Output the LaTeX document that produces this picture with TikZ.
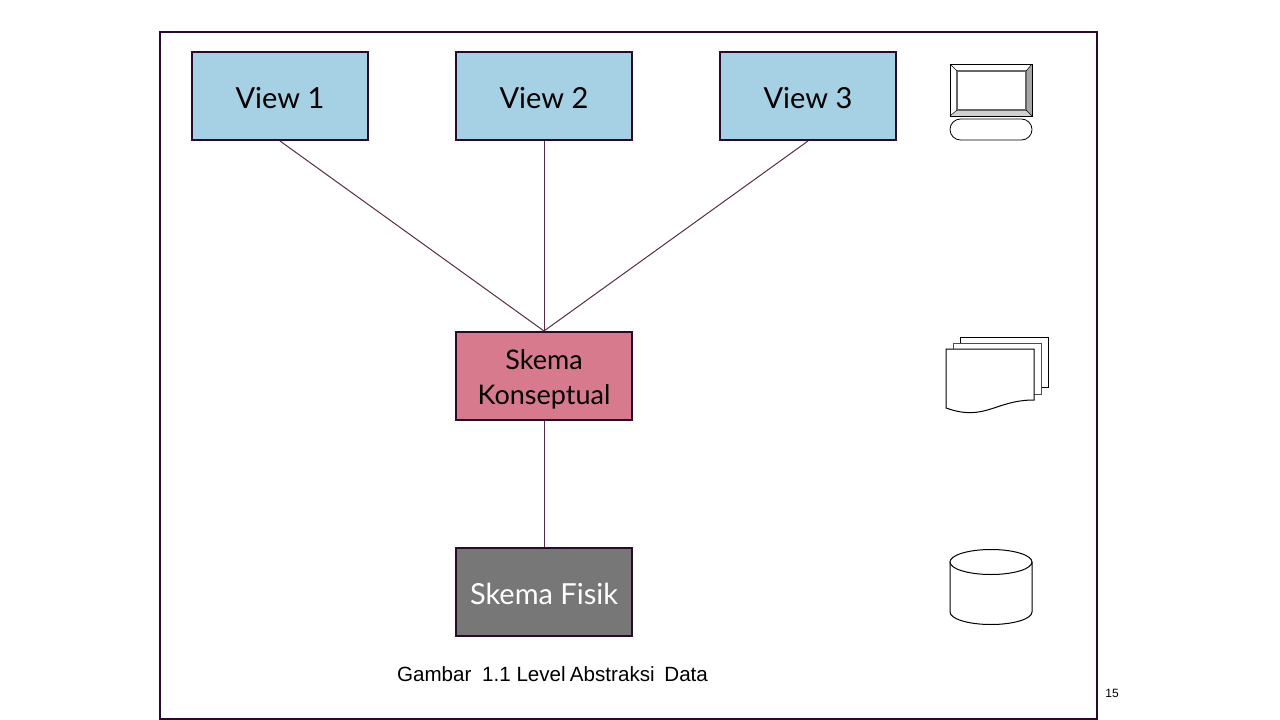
\documentclass[tikz,border=0pt]{standalone}
\usepackage{fontspec}
\setmainfont{Lato}
\newfontfamily\capfont{Liberation Sans}
\definecolor{framec}{HTML}{2A0A2A}
\definecolor{linkc}{HTML}{5A2A48}
\definecolor{viewc}{HTML}{A6D0E4}
\definecolor{konsepc}{HTML}{D87A8E}
\definecolor{fisikc}{HTML}{777777}
\begin{document}
\begin{tikzpicture}[x=1pt, y=-1pt, line join=miter,
  levelbox/.style={draw=framec, line width=2pt, minimum width=176pt, minimum height=88pt, inner sep=0pt, align=center, text height=24pt, text depth=0pt, font=\fontsize{29}{35}\selectfont},
  link/.style={draw=linkc, line width=1pt},
  icon/.style={draw=black, line width=1pt, fill=white}]
\useasboundingbox (0,0) rectangle (1280,720);
\draw[framec, line width=2pt] (160,32) rectangle (1097,719);
\node[levelbox, fill=viewc] (V1) at (280,96) {View 1};
\node[levelbox, fill=viewc] (V2) at (544,96) {View 2};
\node[levelbox, fill=viewc] (V3) at (808,96) {View 3};
\node[levelbox, fill=konsepc, text height=56pt, font=\fontsize{27}{35}\selectfont] (K) at (544,376) {Skema\\Konseptual};
\node[levelbox, fill=fisikc, text=white] (F) at (544,592) {Skema Fisik};
\draw[link] (V1.south) -- (K.north);
\draw[link] (V2.south) -- (K.north);
\draw[link] (V3.south) -- (K.north);
\draw[link] (K.south) -- (F.north);
\node[font=\capfont\fontsize{20.6}{24}\selectfont, anchor=base] (C) at (552.5,681) {Gambar\hspace{5pt} 1.1 Level\hspace{-1.5pt} Abstraksi\hspace{4pt} Data};
\node[font=\capfont\fontsize{12}{14}\selectfont, anchor=base] (P) at (1112,697) {15};
% monitor
\fill[black!35] (1032,64) -- (1026,71) -- (1026,110) -- (1032,116) -- cycle;
\fill[black!18] (950,116) -- (957,110) -- (1026,110) -- (1032,116) -- cycle;
\draw[black!60, line width=1.4pt, fill=white] (957,71) rectangle (1026,110);
\draw[black, line width=0.5pt] (950,64) -- (957,71) (1032,64) -- (1026,71) (950,116) -- (957,110) (1032,116) -- (1026,110);
\draw[black, line width=1pt] (950,64) rectangle (1032,116);
\draw[icon, line width=0.8pt, rounded corners=10.5pt] (950,119) rectangle (1032,140);
% pages
\draw[icon] (960,337) rectangle (1048,387);
\draw[icon, draw=black!70] (953,343) rectangle (1041,394);
\draw[icon] (946,349) -- (1034,349) -- (1034,400) .. controls (995,400) and (985,422) .. (946,408) -- cycle;
% cylinder
\draw[icon] (950,562) -- (950,612) arc[start angle=180, end angle=360, x radius=41pt, y radius=12.5pt] -- (1032,562);
\draw[icon] (991,562) ellipse (41 and 12.5);
\end{tikzpicture}
\end{document}
